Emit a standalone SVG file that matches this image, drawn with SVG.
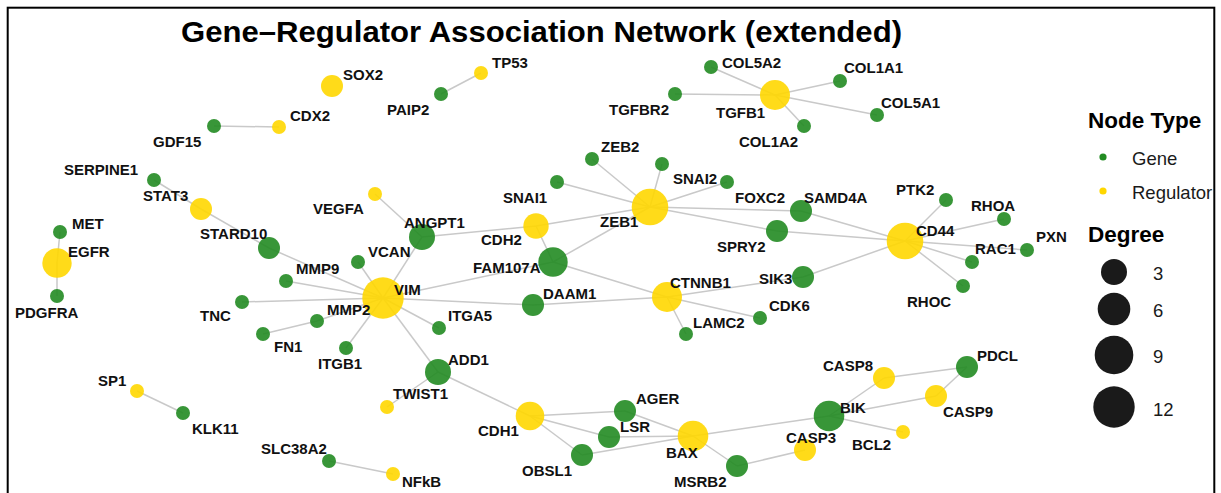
<svg xmlns="http://www.w3.org/2000/svg" width="1221" height="493" viewBox="0 0 1221 493">
  <style>
    .edge { stroke: #c9c9c9; stroke-width: 1.5; fill: none; }
    .gene { fill: #228b22; fill-opacity: 0.9; }
    .reg { fill: #ffd700; fill-opacity: 0.9; }
    .lbl { font-family: "Liberation Sans", Arial, sans-serif; font-weight: bold; font-size: 15px; fill: #111; }
    .title { font-family: "Liberation Sans", Arial, sans-serif; font-weight: bold; font-size: 30px; fill: #000; }
    .lgh { font-family: "Liberation Sans", Arial, sans-serif; font-weight: bold; font-size: 22.5px; fill: #000; }
    .lgt { font-family: "Liberation Sans", Arial, sans-serif; font-size: 18.5px; fill: #1a1a1a; }
    .deg { fill: #1a1a1a; }
  </style>

  <rect x="0" y="0" width="1221" height="493" fill="#ffffff"/>

  <text class="title" x="181" y="42" textLength="721" lengthAdjust="spacingAndGlyphs">Gene–Regulator Association Network (extended)</text>

  <!-- connectors -->
  <g id="edges">
    <line class="edge" x1="214" y1="126" x2="279" y2="127"/>
    <line class="edge" x1="154" y1="180" x2="201" y2="209"/>
    <line class="edge" x1="201" y1="209" x2="269" y2="248"/>
    <line class="edge" x1="269" y1="248" x2="383" y2="298"/>
    <line class="edge" x1="60" y1="232" x2="57" y2="263"/>
    <line class="edge" x1="57" y1="263" x2="57" y2="296"/>
    <line class="edge" x1="441" y1="94" x2="481" y2="73"/>
    <line class="edge" x1="775" y1="95" x2="711" y2="67"/>
    <line class="edge" x1="775" y1="95" x2="675" y2="94"/>
    <line class="edge" x1="775" y1="95" x2="804" y2="126"/>
    <line class="edge" x1="775" y1="95" x2="840" y2="81"/>
    <line class="edge" x1="775" y1="95" x2="877" y2="115"/>
    <line class="edge" x1="375" y1="194" x2="422" y2="237"/>
    <line class="edge" x1="422" y1="237" x2="383" y2="298"/>
    <line class="edge" x1="422" y1="237" x2="536" y2="226"/>
    <line class="edge" x1="536" y1="226" x2="650" y2="207"/>
    <line class="edge" x1="536" y1="226" x2="553" y2="262"/>
    <line class="edge" x1="553" y1="262" x2="650" y2="207"/>
    <line class="edge" x1="553" y1="262" x2="383" y2="298"/>
    <line class="edge" x1="553" y1="262" x2="667" y2="297"/>
    <line class="edge" x1="383" y1="298" x2="533" y2="305"/>
    <line class="edge" x1="533" y1="305" x2="667" y2="297"/>
    <line class="edge" x1="383" y1="298" x2="439" y2="328"/>
    <line class="edge" x1="383" y1="298" x2="438" y2="372"/>
    <line class="edge" x1="383" y1="298" x2="358" y2="262"/>
    <line class="edge" x1="383" y1="298" x2="286" y2="281"/>
    <line class="edge" x1="383" y1="298" x2="242" y2="302"/>
    <line class="edge" x1="383" y1="298" x2="317" y2="321"/>
    <line class="edge" x1="317" y1="321" x2="263" y2="334"/>
    <line class="edge" x1="383" y1="298" x2="346" y2="348"/>
    <line class="edge" x1="438" y1="372" x2="387" y2="407"/>
    <line class="edge" x1="438" y1="372" x2="530" y2="416"/>
    <line class="edge" x1="530" y1="416" x2="625" y2="411"/>
    <line class="edge" x1="530" y1="416" x2="609" y2="437"/>
    <line class="edge" x1="530" y1="416" x2="582" y2="455"/>
    <line class="edge" x1="625" y1="411" x2="693" y2="436"/>
    <line class="edge" x1="609" y1="437" x2="693" y2="436"/>
    <line class="edge" x1="582" y1="455" x2="693" y2="436"/>
    <line class="edge" x1="693" y1="436" x2="737" y2="466"/>
    <line class="edge" x1="737" y1="466" x2="805" y2="450"/>
    <line class="edge" x1="693" y1="436" x2="829" y2="416"/>
    <line class="edge" x1="829" y1="416" x2="884" y2="378"/>
    <line class="edge" x1="829" y1="416" x2="936" y2="396"/>
    <line class="edge" x1="829" y1="416" x2="903" y2="432"/>
    <line class="edge" x1="884" y1="378" x2="967" y2="367"/>
    <line class="edge" x1="936" y1="396" x2="967" y2="367"/>
    <line class="edge" x1="667" y1="297" x2="803" y2="277"/>
    <line class="edge" x1="667" y1="297" x2="760" y2="318"/>
    <line class="edge" x1="667" y1="297" x2="686" y2="334"/>
    <line class="edge" x1="803" y1="277" x2="905" y2="241"/>
    <line class="edge" x1="905" y1="241" x2="801" y2="211"/>
    <line class="edge" x1="905" y1="241" x2="777" y2="231"/>
    <line class="edge" x1="905" y1="241" x2="946" y2="200"/>
    <line class="edge" x1="905" y1="241" x2="1004" y2="219"/>
    <line class="edge" x1="905" y1="241" x2="1027" y2="250"/>
    <line class="edge" x1="905" y1="241" x2="972" y2="262"/>
    <line class="edge" x1="905" y1="241" x2="963" y2="286"/>
    <line class="edge" x1="650" y1="207" x2="592" y2="159"/>
    <line class="edge" x1="650" y1="207" x2="662" y2="164"/>
    <line class="edge" x1="650" y1="207" x2="727" y2="182"/>
    <line class="edge" x1="650" y1="207" x2="557" y2="182"/>
    <line class="edge" x1="650" y1="207" x2="801" y2="211"/>
    <line class="edge" x1="650" y1="207" x2="777" y2="231"/>
    <line class="edge" x1="137" y1="391" x2="183" y2="413"/>
    <line class="edge" x1="329" y1="461" x2="393" y2="474"/>
  </g>

  <!-- nodes -->
  <g id="node-SOX2"><circle class="reg" cx="332" cy="86" r="11"/><text class="lbl" x="343" y="80">SOX2</text></g>
  <g id="node-CDX2"><circle class="reg" cx="279" cy="127" r="7"/><text class="lbl" x="290" y="121">CDX2</text></g>
  <g id="node-GDF15"><circle class="gene" cx="214" cy="126" r="7"/><text class="lbl" x="153" y="147">GDF15</text></g>
  <g id="node-SERPINE1"><circle class="gene" cx="154" cy="180" r="7"/><text class="lbl" x="64" y="175">SERPINE1</text></g>
  <g id="node-STAT3"><circle class="reg" cx="201" cy="209" r="11"/><text class="lbl" x="143" y="201">STAT3</text></g>
  <g id="node-VEGFA"><circle class="reg" cx="375" cy="194" r="7"/><text class="lbl" x="313" y="214">VEGFA</text></g>
  <g id="node-MET"><circle class="gene" cx="60" cy="232" r="7"/><text class="lbl" x="72" y="229">MET</text></g>
  <g id="node-STARD10"><circle class="gene" cx="269" cy="248" r="11"/><text class="lbl" x="200" y="239">STARD10</text></g>
  <g id="node-EGFR"><circle class="reg" cx="57" cy="263" r="14.7"/><text class="lbl" x="68" y="257">EGFR</text></g>
  <g id="node-PDGFRA"><circle class="gene" cx="57" cy="296" r="7"/><text class="lbl" x="15" y="318">PDGFRA</text></g>
  <g id="node-TP53"><circle class="reg" cx="481" cy="73" r="7"/><text class="lbl" x="492" y="68">TP53</text></g>
  <g id="node-PAIP2"><circle class="gene" cx="441" cy="94" r="7"/><text class="lbl" x="387" y="115">PAIP2</text></g>
  <g id="node-COL5A2"><circle class="gene" cx="711" cy="67" r="7"/><text class="lbl" x="722" y="68">COL5A2</text></g>
  <g id="node-TGFBR2"><circle class="gene" cx="675" cy="94" r="7"/><text class="lbl" x="609" y="115">TGFBR2</text></g>
  <g id="node-TGFB1"><circle class="reg" cx="775" cy="95" r="15"/><text class="lbl" x="716" y="118">TGFB1</text></g>
  <g id="node-COL1A2"><circle class="gene" cx="804" cy="126" r="7"/><text class="lbl" x="739" y="147">COL1A2</text></g>
  <g id="node-COL1A1"><circle class="gene" cx="840" cy="81" r="7"/><text class="lbl" x="844" y="73">COL1A1</text></g>
  <g id="node-COL5A1"><circle class="gene" cx="877" cy="115" r="7"/><text class="lbl" x="881" y="108">COL5A1</text></g>
  <g id="node-ZEB2"><circle class="gene" cx="592" cy="159" r="7"/><text class="lbl" x="601" y="152">ZEB2</text></g>
  <g id="node-SNAI2"><circle class="gene" cx="662" cy="164" r="7"/><text class="lbl" x="673" y="184">SNAI2</text></g>
  <g id="node-FOXC2"><circle class="gene" cx="727" cy="182" r="7"/><text class="lbl" x="735" y="203">FOXC2</text></g>
  <g id="node-SNAI1"><circle class="gene" cx="557" cy="182" r="7"/><text class="lbl" x="503" y="203">SNAI1</text></g>
  <g id="node-ZEB1"><circle class="reg" cx="650" cy="207" r="18.3"/><text class="lbl" x="600" y="227">ZEB1</text></g>
  <g id="node-CDH2"><circle class="reg" cx="536" cy="226" r="12.7"/><text class="lbl" x="481" y="245">CDH2</text></g>
  <g id="node-ANGPT1"><circle class="gene" cx="422" cy="237" r="13"/><text class="lbl" x="404" y="228">ANGPT1</text></g>
  <g id="node-SAMD4A"><circle class="gene" cx="801" cy="211" r="11"/><text class="lbl" x="804" y="203">SAMD4A</text></g>
  <g id="node-SPRY2"><circle class="gene" cx="777" cy="231" r="11"/><text class="lbl" x="717" y="252">SPRY2</text></g>
  <g id="node-FAM107A"><circle class="gene" cx="553" cy="262" r="14.7"/><text class="lbl" x="473" y="273">FAM107A</text></g>
  <g id="node-CTNNB1"><circle class="reg" cx="667" cy="297" r="15"/><text class="lbl" x="670" y="288">CTNNB1</text></g>
  <g id="node-DAAM1"><circle class="gene" cx="533" cy="305" r="11"/><text class="lbl" x="543" y="299">DAAM1</text></g>
  <g id="node-LAMC2"><circle class="gene" cx="686" cy="334" r="7"/><text class="lbl" x="693" y="328">LAMC2</text></g>
  <g id="node-SIK3"><circle class="gene" cx="803" cy="277" r="11"/><text class="lbl" x="759" y="284">SIK3</text></g>
  <g id="node-CDK6"><circle class="gene" cx="760" cy="318" r="7"/><text class="lbl" x="769" y="311">CDK6</text></g>
  <g id="node-CD44"><circle class="reg" cx="905" cy="241" r="18.3"/><text class="lbl" x="916" y="236">CD44</text></g>
  <g id="node-PTK2"><circle class="gene" cx="946" cy="200" r="7"/><text class="lbl" x="896" y="195">PTK2</text></g>
  <g id="node-RHOA"><circle class="gene" cx="1004" cy="219" r="7"/><text class="lbl" x="971" y="211">RHOA</text></g>
  <g id="node-PXN"><circle class="gene" cx="1027" cy="250" r="7"/><text class="lbl" x="1036" y="242">PXN</text></g>
  <g id="node-RAC1"><circle class="gene" cx="972" cy="262" r="7"/><text class="lbl" x="975" y="254">RAC1</text></g>
  <g id="node-RHOC"><circle class="gene" cx="963" cy="286" r="7"/><text class="lbl" x="907" y="307">RHOC</text></g>
  <g id="node-MMP9"><circle class="gene" cx="286" cy="281" r="7"/><text class="lbl" x="296" y="274">MMP9</text></g>
  <g id="node-VCAN"><circle class="gene" cx="358" cy="262" r="7"/><text class="lbl" x="368" y="257">VCAN</text></g>
  <g id="node-VIM"><circle class="reg" cx="383" cy="298" r="20.7"/><text class="lbl" x="394" y="295">VIM</text></g>
  <g id="node-TNC"><circle class="gene" cx="242" cy="302" r="7"/><text class="lbl" x="200" y="321">TNC</text></g>
  <g id="node-MMP2"><circle class="gene" cx="317" cy="321" r="7"/><text class="lbl" x="327" y="315">MMP2</text></g>
  <g id="node-FN1"><circle class="gene" cx="263" cy="334" r="7"/><text class="lbl" x="274" y="352">FN1</text></g>
  <g id="node-ITGB1"><circle class="gene" cx="346" cy="348" r="7"/><text class="lbl" x="318" y="369">ITGB1</text></g>
  <g id="node-SP1"><circle class="reg" cx="137" cy="391" r="7"/><text class="lbl" x="98" y="386">SP1</text></g>
  <g id="node-KLK11"><circle class="gene" cx="183" cy="413" r="7"/><text class="lbl" x="192" y="434">KLK11</text></g>
  <g id="node-SLC38A2"><circle class="gene" cx="329" cy="461" r="7"/><text class="lbl" x="261" y="454">SLC38A2</text></g>
  <g id="node-NFkB"><circle class="reg" cx="393" cy="474" r="7"/><text class="lbl" x="402" y="487">NFkB</text></g>
  <g id="node-TWIST1"><circle class="reg" cx="387" cy="407" r="7"/><text class="lbl" x="393" y="399">TWIST1</text></g>
  <g id="node-ITGA5"><circle class="gene" cx="439" cy="328" r="7"/><text class="lbl" x="448" y="321">ITGA5</text></g>
  <g id="node-ADD1"><circle class="gene" cx="438" cy="372" r="13"/><text class="lbl" x="448" y="365">ADD1</text></g>
  <g id="node-CDH1"><circle class="reg" cx="530" cy="416" r="14.3"/><text class="lbl" x="478" y="436">CDH1</text></g>
  <g id="node-AGER"><circle class="gene" cx="625" cy="411" r="11"/><text class="lbl" x="636" y="404">AGER</text></g>
  <g id="node-LSR"><circle class="gene" cx="609" cy="437" r="11"/><text class="lbl" x="620" y="432">LSR</text></g>
  <g id="node-OBSL1"><circle class="gene" cx="582" cy="455" r="11"/><text class="lbl" x="522" y="476">OBSL1</text></g>
  <g id="node-BAX"><circle class="reg" cx="693" cy="436" r="15.3"/><text class="lbl" x="666" y="458">BAX</text></g>
  <g id="node-MSRB2"><circle class="gene" cx="737" cy="466" r="11"/><text class="lbl" x="674" y="487">MSRB2</text></g>
  <g id="node-CASP3"><circle class="reg" cx="805" cy="450" r="11"/><text class="lbl" x="786" y="443">CASP3</text></g>
  <g id="node-BIK"><circle class="gene" cx="829" cy="416" r="15.3"/><text class="lbl" x="840" y="413">BIK</text></g>
  <g id="node-CASP8"><circle class="reg" cx="884" cy="378" r="11"/><text class="lbl" x="823" y="371">CASP8</text></g>
  <g id="node-CASP9"><circle class="reg" cx="936" cy="396" r="11"/><text class="lbl" x="943" y="417">CASP9</text></g>
  <g id="node-PDCL"><circle class="gene" cx="967" cy="367" r="11"/><text class="lbl" x="977" y="361">PDCL</text></g>
  <g id="node-BCL2"><circle class="reg" cx="903" cy="432" r="7"/><text class="lbl" x="852" y="450">BCL2</text></g>

  <!-- legend -->
  <g id="legend">
    <text class="lgh" x="1088" y="128">Node Type</text>
    <circle cx="1103" cy="157" r="3.6" fill="#228b22"/>
    <text class="lgt" x="1132" y="165">Gene</text>
    <circle cx="1103" cy="191" r="3.6" fill="#ffd700"/>
    <text class="lgt" x="1132" y="199">Regulator</text>
    <text class="lgh" x="1088" y="242">Degree</text>
    <circle class="deg" cx="1114" cy="272" r="13"/>
    <text class="lgt" x="1153" y="280">3</text>
    <circle class="deg" cx="1114" cy="309" r="16.3"/>
    <text class="lgt" x="1153" y="317">6</text>
    <circle class="deg" cx="1114" cy="355" r="19.3"/>
    <text class="lgt" x="1153" y="363">9</text>
    <circle class="deg" cx="1114" cy="407" r="20.7"/>
    <text class="lgt" x="1153" y="416">12</text>
  </g>

  <!-- frame, open at the bottom edge of the canvas -->
  <rect x="7.7" y="7.7" width="1206.6" height="500" fill="none" stroke="#000" stroke-width="2"/>
</svg>
